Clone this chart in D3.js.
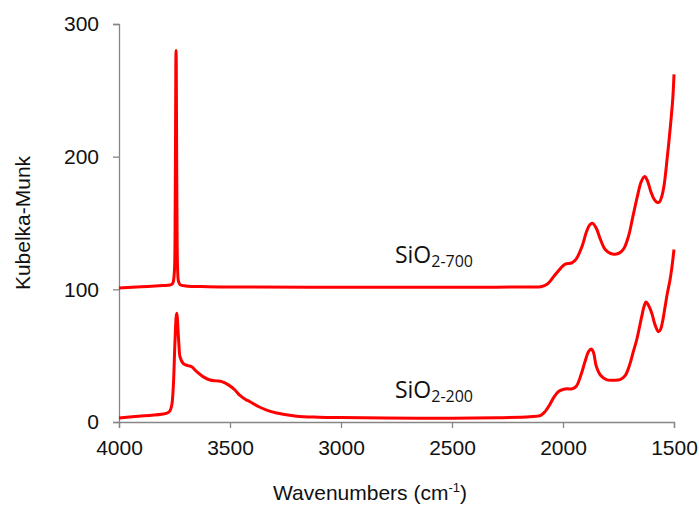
<!DOCTYPE html>
<html><head><meta charset="utf-8">
<script src="https://cdn.jsdelivr.net/npm/d3@7"></script>
<style>body{margin:0;background:#fff}svg{display:block}</style>
</head><body>
<script>
// Wavenumbers (cm-1) and Kubelka-Munk values
const wn700 = [4000,3900,3800,3770,3760,3755,3750,3747,3745,3744,3743,3742,3741,3739,3736,3732,3725,3700,3600,3400,3000,2600,2300,2150,2100,2070,2040,2010,1990,1960,1940,1915,1895,1880,1866,1850,1830,1810,1785,1765,1745,1725,1705,1685,1665,1648,1632,1620,1605,1590,1575,1565,1555,1545,1530,1515,1505,1500];
const km700 = [101,102,102.8,103.3,104,106,115,160,230,270,280,270,230,160,115,106,103.5,102.5,102,101.8,101.6,101.5,101.6,101.8,102,104,110,116,119,120,123,132,143,148.5,149.7,146,137,130,127,126.5,127.5,131,140,155,170,181,185,182,174,168,165.5,166,170,178,200,225,245,262];
const wn200 = [4000,3900,3800,3780,3770,3762,3755,3748,3742,3739,3735,3730,3725,3710,3690,3673,3650,3620,3590,3560,3537,3507,3480,3455,3430,3410,3370,3335,3290,3260,3200,3100,3000,2800,2500,2300,2150,2100,2080,2060,2040,2020,2000,1980,1960,1940,1920,1900,1885,1872,1862,1850,1830,1802,1770,1743,1720,1698,1685,1668,1646,1635,1626,1615,1600,1585,1570,1560,1550,1540,1530,1518,1510,1500];
const km200 = [3,4.5,6,7,8.5,13,28,60,80,82,72,58,49,44,42.5,41.7,38,34,31.7,31,30.4,28,24.5,20,17,15.3,11.5,9,6.8,5.8,4.3,3.6,3.3,3,2.8,3.2,4,5,8,13,19,23,24.5,25,25,27,35,46,53,55,52,42,35,31.7,31.5,32,35,44,52,62,79,87,90.5,88,82,73,68,70,77,87,97,107,116,130];
const xTicks = [4000,3500,3000,2500,2000,1500];
const yTicks = [0,100,200,300];
const seriesLabels = [{main:"SiO", sub:"2-700", x:2757, y:119.6},{main:"SiO", sub:"2-200", x:2757, y:18}];

const W=699,H=505;
const svg=d3.select("body").append("svg").attr("width",W).attr("height",H);
const x=d3.scaleLinear().domain([4000,1500]).range([119,674]);
const y=d3.scaleLinear().domain([0,300]).range([422,24]);
const axisColor="#868686";
const font="'Liberation Sans', Arial, sans-serif";

// axes
const gx=svg.append("g").attr("transform","translate(0,422)")
  .call(d3.axisBottom(x).tickValues(xTicks).tickSize(6).tickPadding(12).tickFormat(d3.format("d")));
const gy=svg.append("g").attr("transform","translate(119,0)")
  .call(d3.axisLeft(y).tickValues(yTicks).tickSize(6).tickPadding(14).tickFormat(d3.format("d")));
[gx,gy].forEach(g=>{
  g.select(".domain").attr("stroke",axisColor).attr("stroke-width",1.3);
  g.selectAll(".tick line").attr("stroke",axisColor).attr("stroke-width",1.3);
  g.selectAll(".tick text").attr("fill","#111").style("font-family",font).style("font-size","21px");
});

// lines
const line=d3.line().x(d=>x(d[0])).y(d=>y(d[1])).curve(d3.curveCatmullRom.alpha(0.5));
[[wn700,km700],[wn200,km200]].forEach(([w,k])=>{
  svg.append("path").datum(w.map((v,i)=>[v,k[i]]))
    .attr("d",line).attr("fill","none").attr("stroke","#ff0000")
    .attr("stroke-width",3).attr("stroke-linejoin","round");
});

// series labels
seriesLabels.forEach(l=>{
  const t=svg.append("text").attr("x",x(l.x)).attr("y",y(l.y))
    .style("font-family","'Open Sans', sans-serif").attr("fill","#111");
  t.append("tspan").text(l.main).style("font-size","23px");
  t.append("tspan").text(l.sub).style("font-size","16px").attr("dy",4);
});

// axis titles
const xt=svg.append("text").attr("x",370).attr("y",500).attr("text-anchor","middle")
  .style("font-family",font).style("font-size","21px").attr("fill","#111");
xt.append("tspan").text("Wavenumbers (cm");
xt.append("tspan").text("-1").style("font-size","13px").attr("dy",-8);
xt.append("tspan").text(")").attr("dy",8);
svg.append("text").attr("transform","translate(30,223) rotate(-90)").attr("text-anchor","middle")
  .style("font-family",font).style("font-size","21px").attr("fill","#111").text("Kubelka-Munk");
</script>
</body></html>
